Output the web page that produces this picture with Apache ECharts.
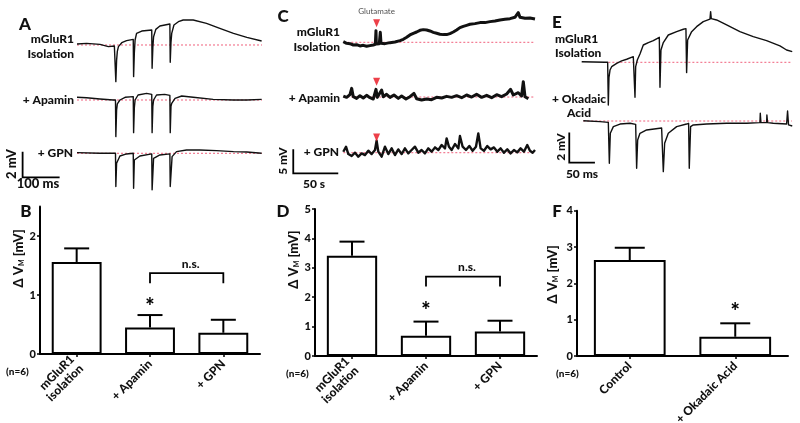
<!DOCTYPE html>
<html><head><meta charset="utf-8">
<script src="https://cdn.jsdelivr.net/npm/echarts@6.0.0/dist/echarts.min.js"></script>
<style>html,body{margin:0;padding:0;background:#fff}#c{width:800px;height:423px}</style>
</head><body><div id="c"></div>
<script>
// ---------- Panel A traces: [time ms, mV relative to baseline] ----------
const traceA_iso = [[0,0.08],[26,0.13],[62,0.05],[85,-0.13],[101,-0.08],[104,-0.1],[105,-2.86],[107,-1.2],[109,-0.5],[112,-0.13],[121,0.18],[134,0.34],[152,0.44],[153,-2.47],[155,-0.6],[157,0.39],[161,0.91],[175,1.09],[202,1.17],[203,-1.82],[205,-0.2],[207,0.65],[213,1.22],[224,1.48],[251,1.64],[252,-1.35],[254,0.2],[256,0.91],[262,1.56],[274,1.82],[287,1.95],[314,1.95],[350,1.69],[386,1.30],[423,0.91],[459,0.60],[499,0.31]];
const traceA_apamin = [[0,0.21],[26,0.18],[62,0.08],[98,0],[104,0],[105,-2.86],[107,-0.8],[109,-0.3],[116,0],[130,0.21],[152,0.26],[153,-2.55],[155,-0.6],[157,0],[165,0.39],[188,0.52],[202,0.44],[203,-2.55],[205,-0.5],[207,0],[215,0.39],[237,0.44],[251,0.36],[252,-2.55],[254,-0.5],[256,-0.26],[265,0.13],[283,0.31],[314,0.21],[368,0.05],[423,0],[459,0],[499,0.05]];
const traceA_gpn = [[0,0.05],[62,0],[104,0],[105,-2.6],[107,-0.78],[116,-0.21],[134,-0.05],[152,0],[153,-2.73],[155,-0.52],[170,-0.21],[202,-0.05],[203,-2.86],[207,-0.39],[224,-0.13],[251,-0.05],[252,-2.6],[257,-0.26],[269,0.13],[296,0.26],[332,0.26],[377,0.21],[423,0.13],[459,0.1],[499,0]];

// ---------- Panel C traces: [time s, mV relative to baseline] ----------
const traceC_iso = [[0,0.14],[3.7,-0.21],[7.4,-0.28],[11.1,-0.56],[14.8,-0.49],[18.5,-0.76],[22.2,-0.63],[25.9,-0.83],[29.6,-0.69],[33.3,-0.56],[35.6,-0.42],[36.3,2.43],[36.7,-0.35],[40,-0.28],[41.1,2.08],[41.9,-0.21],[46.3,-0.28],[51.9,-0.07],[57.4,0.07],[63,0.35],[66.7,0.63],[70.4,1.04],[74,1.53],[77.8,1.88],[81.5,2.15],[85.2,2.5],[88.9,2.64],[92.6,2.57],[96.3,2.36],[100,2.08],[103.7,1.88],[107.4,1.67],[111.1,1.6],[114.8,1.6],[118.5,1.81],[122.2,2.15],[125.9,2.57],[129.6,3.06],[133.3,3.33],[137,3.54],[140.7,3.75],[146.3,3.89],[151.9,4.1],[157.4,4.1],[163,4.31],[168.5,4.44],[174.1,4.65],[179.6,4.79],[185.2,4.93],[190.7,5.21],[194.4,6.18],[196.3,5.21],[201.9,5.0],[207.4,5.07],[213,4.86]];
const traceC_apamin = [[0,0.21],[3.7,-0.07],[7.4,0.49],[9.3,1.81],[11.1,0.07],[14.8,-0.28],[18.5,0.28],[22.2,-0.21],[25.9,0.35],[29.6,-0.14],[33.3,-0.42],[36.3,1.6],[37.8,-0.07],[42.6,1.46],[44.4,0.07],[48.1,0.56],[51.9,-0.07],[56.3,0.42],[61.1,-0.28],[64.8,0.21],[69.6,-0.42],[74.1,0.07],[78.5,0.76],[81.5,-0.35],[87,-0.63],[92.6,-0.42],[98.1,-0.56],[103.7,-0.07],[109.3,-0.21],[114.8,0.14],[120.4,-0.07],[125.9,0.28],[131.5,-0.14],[137,0.42],[142.6,0],[148.1,0.56],[153.7,-0.07],[159.3,0.35],[164.8,-0.14],[170.4,0.49],[175.9,0.07],[181.5,0.63],[185.9,1.6],[188.9,0.42],[194.4,0.9],[198.1,0.21],[200,3.19],[201.9,0.07],[205.6,-0.35]];
const traceC_gpn = [[0,0.21],[3,1.25],[5.6,-0.28],[9.3,-0.69],[13,0],[16.7,-0.83],[20.4,-0.14],[24.1,-0.49],[27.8,0.42],[31.5,-0.28],[35.2,0.56],[37,2.5],[38.9,0.21],[42.6,-0.83],[46.3,1.25],[50,-0.28],[53.7,0.9],[57.4,-0.49],[61.1,0.69],[64.8,-0.28],[68.5,0.9],[72.2,-0.14],[75.9,0.56],[79.6,1.25],[83.3,0],[87,0.56],[90.7,-0.14],[94.4,0.9],[98.1,0.21],[101.9,1.11],[105.6,0.56],[109.3,1.6],[113,0.9],[114.8,2.99],[117.4,1.25],[120.4,0.56],[124.1,1.81],[127.8,0.9],[129.6,3.47],[132.6,1.25],[136.3,0.56],[140,1.39],[143.7,0.42],[147.4,1.25],[150,4.03],[152.6,0.9],[156.3,0.42],[160,1.39],[163.7,0.69],[167.4,1.11],[171.1,0.21],[174.8,0.9],[178.5,0],[182.2,0.69],[185.9,-0.14],[189.6,0.56],[193.3,0.07],[197,0.9],[200.7,0.21],[204.4,1.6],[207.4,0.42],[210.4,0],[213,0.56]];
const glutamateTime = 37;
const glutamateArrowLevel = [3.96, 3.19, 3.19];

// ---------- Panel E traces: [time ms, mV relative to baseline] ----------
const traceE_iso = [[0,0.04],[22.7,0.02],[45.5,0],[50.6,0],[51.9,-2.81],[53.2,-0.99],[55.2,-0.51],[58.4,-0.29],[68.2,-0.07],[77.9,0.09],[87.7,0.2],[100.6,0.37],[103.2,0.42],[103.9,-2.31],[105.2,-0.29],[108.4,0.15],[113.6,0.55],[120.1,1.14],[129.9,1.3],[139.6,1.43],[151.3,1.65],[152.6,-1.65],[154.5,0.81],[159.1,1.3],[168.8,1.8],[185.1,2.02],[198.1,2.18],[203.2,2.22],[204.5,-0.68],[206.5,1.47],[214.3,2.02],[224,2.35],[237,2.68],[250,2.84],[251.3,3.34],[252.6,2.88],[263,2.79],[282.5,2.46],[308.4,2.02],[334.4,1.69],[360.4,1.43],[386.4,1.08],[399.4,0.81],[410.4,0.7]];
const traceE_okadaic = [[3.2,0.02],[35.7,-0.04],[51.9,-0.09],[53.9,-2.79],[55.8,-0.81],[61.7,-0.37],[74.7,-0.2],[94.2,-0.15],[105.2,-0.22],[107.1,-3.12],[109.1,-1.25],[113.6,-0.81],[126.6,-0.59],[155.8,-0.46],[159.1,-3.34],[161.7,-1.47],[168.8,-0.81],[185.1,-0.37],[204.5,-0.2],[208.4,-0.15],[209.7,-3.12],[212.3,-0.37],[217.5,-0.26],[243.5,-0.2],[282.5,-0.15],[321.4,-0.15],[347.4,-0.11],[348.1,0.51],[349.4,-0.11],[360.4,-0.11],[361,0.4],[362.3,-0.11],[373.4,-0.15],[399.4,-0.2],[401.3,0.66],[403.2,-0.26],[410.4,-0.33]];

// ---------- Bar panels ----------
const catsB = ['mGluR1\nisolation', '+ Apamin', '+ GPN'];
const meanB = [1.56, 0.45, 0.36];
const errB  = [1.79, 0.66, 0.58];
const catsD = ['mGluR1\nisolation', '+ Apamin', '+ GPN'];
const meanD = [3.41, 0.69, 0.83];
const errD  = [3.89, 1.17, 1.2];
const catsF = ['Control', '+ Okadaic Acid'];
const meanF = [2.64, 0.53];
const errF  = [2.98, 0.9];
const ticksB = [0, 1, 2];
const ticksD = [0, 1, 2, 3, 4, 5];
const ticksF = [0, 1, 2, 3, 4];

// ---------------------------------------------------------------
const FONT = 'Lato, "Open Sans", sans-serif';
const W = '900';
const INK = '#111';
const DASH = '#f0607c';

const chart = echarts.init(document.getElementById('c'), null, {renderer: 'canvas'});

const grids = [
  {left: 21.5, top: 10, width: 240.5, height: 180},   // A
  {left: 289.3, top: 10, width: 247.5, height: 180},  // C
  {left: 566.3, top: 5, width: 228.3, height: 185},   // E
  {left: 40, top: 206.5, width: 220, height: 147.5},  // B
  {left: 315, top: 209, width: 222, height: 147},     // D
  {left: 577, top: 210.7, width: 211, height: 145.3}  // F
].map(g => Object.assign({outerBoundsMode: 'none', containLabel: false}, g));

const traceX = [{min: -150, max: 500}, {min: -60, max: 215}, {min: -30, max: 415}];
const traceY = [{min: -11.328, max: 2.734}, {min: -30.77, max: 6.73}, {min: -8.418, max: 3.777}];
const offsets = [[0, -4.297, -8.46], [0, -11.4, -23.0], [0, -3.87]];

const xAxes = [], yAxes = [];
traceX.forEach((a, i) => xAxes.push({type: 'value', gridIndex: i, min: a.min, max: a.max, show: false}));
traceY.forEach((a, i) => yAxes.push({type: 'value', gridIndex: i, min: a.min, max: a.max, show: false}));

function catAxis(gi, cats) {
  return {type: 'category', gridIndex: gi, data: cats, boundaryGap: true,
    axisLine: {show: true, lineStyle: {color: '#000', width: 2}},
    axisTick: {show: true, alignWithLabel: true, length: 3, lineStyle: {color: '#000', width: 1.5}},
    axisLabel: {interval: 0, rotate: 45, margin: 8, color: INK, fontFamily: FONT, fontWeight: W, fontSize: 12, lineHeight: 13}};
}
function valAxis(gi, max, ticks, gap, shift) {
  return {type: 'value', gridIndex: gi, min: 0, max: max, interval: 1,
    splitLine: {show: false},
    axisLine: {show: true, lineStyle: {color: '#000', width: 2}},
    axisTick: {show: true, length: 3, customValues: ticks, lineStyle: {color: '#000', width: 1.5}},
    axisLabel: {customValues: ticks, margin: 4, color: INK, fontFamily: FONT, fontWeight: W, fontSize: 11,
      formatter: v => (Number.isInteger(v) ? String(v) : '')},
    name: '{a|\u0394 V}{s|M}{a| [mV]}', nameLocation: 'middle', nameGap: gap,
    nameTextStyle: {padding: [0, 0, 0, shift], rich: {
      a: {fontFamily: FONT, fontWeight: W, fontSize: 13, color: INK, verticalAlign: 'bottom'},
      s: {fontFamily: FONT, fontWeight: W, fontSize: 7, color: INK, verticalAlign: 'bottom'}}}};
}
xAxes.push(catAxis(3, catsB), catAxis(4, catsD), catAxis(5, catsF));
yAxes.push(valAxis(3, 2.5, ticksB, 8, 44), valAxis(4, 5, ticksD, 10, 46), valAxis(5, 4, ticksF, 18, 18));

const series = [];
function traceSeries(ai, data, off, width) {
  series.push({type: 'line', xAxisIndex: ai, yAxisIndex: ai, symbol: 'none', silent: true, z: 3,
    lineStyle: {color: INK, width: width, join: 'round'},
    data: data.map(p => [p[0], p[1] + off])});
}
function baseline(ai, t0, t1, off) {
  series.push({type: 'line', xAxisIndex: ai, yAxisIndex: ai, symbol: 'none', silent: true, z: 2,
    lineStyle: {color: DASH, width: 1, type: [2, 2]}, data: [[t0, off], [t1, off]]});
}
function scaleBar(ai, t0, v0, dt, dv) {
  series.push({type: 'line', xAxisIndex: ai, yAxisIndex: ai, symbol: 'none', silent: true, z: 3,
    lineStyle: {color: '#000', width: 1.8, join: 'miter'}, data: [[t0, v0 + dv], [t0, v0], [t0 + dt, v0]]});
}
// A
baseline(0, 0, 500, offsets[0][0]); baseline(0, 0, 500, offsets[0][1]); baseline(0, 0, 500, offsets[0][2]);
traceSeries(0, traceA_iso, offsets[0][0], 1.4);
traceSeries(0, traceA_apamin, offsets[0][1], 1.4);
traceSeries(0, traceA_gpn, offsets[0][2], 1.4);
scaleBar(0, -147, -10.34, 100, 2);
// C
baseline(1, 0, 213, offsets[1][0]); baseline(1, 0, 213, offsets[1][1]); baseline(1, 0, 213, offsets[1][2]);
traceSeries(1, traceC_iso, offsets[1][0], 3);
traceSeries(1, traceC_apamin, offsets[1][1], 3);
traceSeries(1, traceC_gpn, offsets[1][2], 2.4);
scaleBar(1, -55.6, -27.29, 50, 5);
series.push({type: 'scatter', xAxisIndex: 1, yAxisIndex: 1, symbol: 'triangle', symbolRotate: 180, symbolSize: [7, 8], z: 4,
  itemStyle: {color: '#e8101c'},
  data: glutamateArrowLevel.map((v, i) => ({value: [glutamateTime, v + offsets[1][i]],
    label: i === 0 ? {show: true, formatter: 'Glutamate', position: 'top', distance: 4, fontSize: 8, color: '#222', fontFamily: FONT} : {show: false}}))});
// E
baseline(2, 52, 410, offsets[2][0]); baseline(2, 3, 410, offsets[2][1]);
traceSeries(2, traceE_iso, offsets[2][0], 1.4);
traceSeries(2, traceE_okadaic, offsets[2][1], 1.4);
scaleBar(2, -24.2, -6.62, 50, 2);

// Bars + error bars + annotations
function barSet(ai, mean, err, capPx, star, starLevel, bracket) {
  series.push({type: 'bar', xAxisIndex: ai, yAxisIndex: ai, data: mean, barWidth: '68%', silent: true, z: 2,
    itemStyle: {color: '#fff', borderColor: '#000', borderWidth: 2}});
  series.push({type: 'custom', xAxisIndex: ai, yAxisIndex: ai, silent: true, z: 3,
    encode: {x: 0, y: [1, 2]},
    data: mean.map((m, i) => [i, m, err[i]]),
    renderItem: (p, api) => {
      const a = api.coord([api.value(0), api.value(1)]);
      const b = api.coord([api.value(0), api.value(2)]);
      return {type: 'group', children: [
        {type: 'line', shape: {x1: a[0], y1: a[1], x2: b[0], y2: b[1]}, style: {stroke: '#000', lineWidth: 2}},
        {type: 'line', shape: {x1: b[0] - capPx / 2, y1: b[1], x2: b[0] + capPx / 2, y2: b[1]}, style: {stroke: '#000', lineWidth: 2}}]};
    }});
  series.push({type: 'custom', xAxisIndex: ai, yAxisIndex: ai, silent: true, z: 4,
    encode: {x: 0, y: 1}, data: [[star, starLevel]],
    renderItem: (p, api) => {
      const c = api.coord([api.value(0), api.value(1)]);
      return {type: 'text', x: c[0], y: c[1], style: {text: '*', fill: '#000', font: W + ' 22px ' + FONT, align: 'center', verticalAlign: 'middle', textAlign: 'center', textVerticalAlign: 'middle'}};
    }});
  if (bracket) {
    series.push({type: 'custom', xAxisIndex: ai, yAxisIndex: ai, silent: true, z: 4,
      encode: {x: [0, 1], y: [2, 3]}, data: [bracket],
      renderItem: (p, api) => {
        const p1 = api.coord([api.value(0), api.value(2)]);
        const p2 = api.coord([api.value(0), api.value(3)]);
        const p3 = api.coord([api.value(1), api.value(3)]);
        const p4 = api.coord([api.value(1), api.value(2)]);
        return {type: 'group', children: [
          {type: 'polyline', shape: {points: [p1, p2, p3, p4]}, style: {stroke: '#000', lineWidth: 1.8, fill: null}},
          {type: 'text', x: (p2[0] + p3[0]) / 2 + 4, y: p2[1] - 3, style: {text: 'n.s.', fill: INK, font: W + ' 12px ' + FONT, align: 'center', verticalAlign: 'bottom', textAlign: 'center', textVerticalAlign: 'bottom'}}]};
      }});
  }
}
barSet(3, meanB, errB, 25, 1, 0.8, [1, 2, 1.2, 1.37]);
barSet(4, meanD, errD, 25, 1, 1.52, [1, 2, 2.36, 2.7]);
barSet(5, meanF, errF, 30, 1, 1.22, null);

// Text labels
function T(x, y, s, size, align, rot) {
  return {type: 'text', x: x, y: y, rotation: rot || 0, silent: true,
    style: {text: s, fill: INK, font: W + ' ' + size + 'px ' + FONT,
      align: align || 'left', verticalAlign: 'middle', textAlign: align || 'left', textVerticalAlign: 'middle'}};
}
const R = Math.PI / 2;
const graphic = [
  T(25, 25, 'A', 17, 'center'),
  T(74, 39, 'mGluR1', 12, 'right'), T(74, 54, 'Isolation', 12, 'right'),
  T(74, 100, '+ Apamin', 12, 'right'), T(73, 153, '+ GPN', 12, 'right'),
  T(12, 164, '2 mV', 13, 'center', R), T(38, 184, '100 ms', 13, 'center'),
  T(283, 17, 'C', 17, 'center'),
  T(340, 32, 'mGluR1', 12, 'right'), T(340, 47, 'Isolation', 12, 'right'),
  T(340, 98, '+ Apamin', 12, 'right'), T(339, 152, '+ GPN', 12, 'right'),
  T(283, 161, '5 mV', 12, 'center', R), T(314, 184, '50 s', 12, 'center'),
  T(557, 23, 'E', 17, 'center'),
  T(555, 39, 'mGluR1', 12, 'left'), T(555, 53, 'Isolation', 12, 'left'),
  T(552, 99, '+ Okadaic', 12, 'left'), T(567, 113, 'Acid', 12, 'left'),
  T(561, 147, '2 mV', 12, 'center', R), T(582, 174, '50 ms', 12, 'center'),
  T(26, 212, 'B', 17, 'center'), T(283, 212, 'D', 17, 'center'), T(557, 212, 'F', 17, 'center'),
  T(6, 372, '(n=6)', 10, 'left'), T(286, 374, '(n=6)', 10, 'left'), T(556, 374, '(n=6)', 10, 'left')
];

chart.setOption({
  animation: false,
  backgroundColor: '#fff',
  grid: grids, xAxis: xAxes, yAxis: yAxes, series: series, graphic: {elements: graphic}
});
</script></body></html>
